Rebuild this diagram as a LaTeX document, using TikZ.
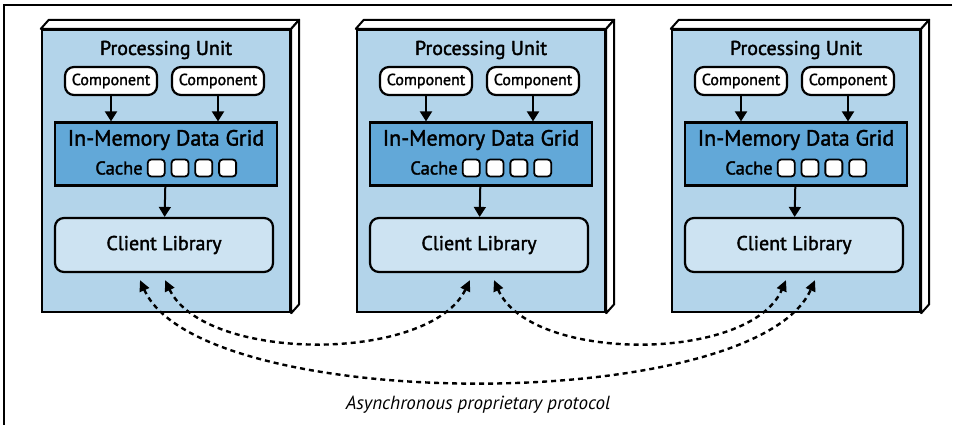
\documentclass[tikz,border=0pt]{standalone}
\usepackage{fontspec}
\setmainfont{PT Sans}[UprightFeatures={FakeBold=1.8}]
\usetikzlibrary{positioning,arrows.meta}

\definecolor{unitblue}{RGB}{179,212,234}
\definecolor{gridblue}{RGB}{98,168,216}
\definecolor{libblue}{RGB}{205,227,242}

\tikzset{
  unit/.style={rectangle, draw, line width=2.4pt, fill=unitblue, minimum width=248pt, minimum height=282pt},
  side/.style={draw, line width=2pt, fill=white, line join=round},
  comp/.style={rectangle, draw, line width=2.2pt, fill=white, rounded corners=9pt, minimum width=92pt, minimum height=28pt, inner sep=0pt, font=\fontsize{16}{16}\selectfont},
  grid/.style={rectangle, draw, line width=2.2pt, fill=gridblue, minimum width=222pt, minimum height=63pt},
  slot/.style={rectangle, draw, line width=1.8pt, fill=white, rounded corners=3.5pt, minimum size=17pt, inner sep=0pt},
  lib/.style={rectangle, draw, line width=2.2pt, fill=libblue, rounded corners=9pt, minimum width=218pt, minimum height=54pt, font=\fontsize{20}{20}\selectfont},
  arrow/.style={-{Triangle[length=10pt,width=12pt]}, line width=2pt},
  proto/.style={{Triangle[length=11pt,width=10pt]}-{Triangle[length=11pt,width=10pt]}, line width=2.4pt, dash pattern=on 5pt off 4pt},
}

\begin{document}
\begin{tikzpicture}[x=1pt, y=-1pt]
  \useasboundingbox (0,0) rectangle (957,425);
  \draw[line width=1.5pt] (952,5) -- (4,5) -- (4,425);

  % three processing units
  \foreach \i/\cx in {1/166, 2/481, 3/796} {
    \node[unit] (pu\i) at (\cx,171) {};
    \draw[side] (pu\i.north west) -- ++(8,-9) -- ([shift={(8,-9)}]pu\i.north east) -- (pu\i.north east) -- cycle;
    \draw[side] (pu\i.north east) -- ++(8,-9) -- ([shift={(8,-9)}]pu\i.south east) -- (pu\i.south east) -- cycle;
    \node[font=\fontsize{20}{20}\selectfont] (title\i) at (\cx,50) {Processing Unit};

    \node[comp] (ca\i) at (\cx-55,81) {Component};
    \node[comp] (cb\i) at (\cx+52,81) {Component};

    \node[grid] (grid\i) at (\cx,154) {};
    \node[font=\fontsize{22}{22}\selectfont] (imdg\i) at (\cx,140) {In-Memory Data Grid};
    \node[font=\fontsize{18.5}{18.5}\selectfont, inner sep=0pt] (cache\i) at (\cx-47,168) {Cache};
    \node[slot, right=4pt of cache\i] (s1\i) {};
    \node[slot, right=5pt of s1\i] (s2\i) {};
    \node[slot, right=5pt of s2\i] (s3\i) {};
    \node[slot, right=5pt of s3\i] (s4\i) {};

    \node[lib] (lib\i) at (\cx-2,245) {Client Library};

    \draw[arrow] (ca\i) -- (ca\i |- grid\i.north);
    \draw[arrow] (cb\i) -- (cb\i |- grid\i.north);
    \draw[arrow] (grid\i) -- (lib\i);
  }

  % protocol ends
  \coordinate (p1a) at ([shift={(-24,7)}]lib1.south);
  \coordinate (p1b) at ([shift={(1,7)}]lib1.south);
  \coordinate (p2a) at ([shift={(-9,7)}]lib2.south);
  \coordinate (p2b) at ([shift={(15,7)}]lib2.south);
  \coordinate (p3a) at ([shift={(-8,7)}]lib3.south);
  \coordinate (p3b) at ([shift={(21,7)}]lib3.south);

  \draw[proto] (p1b) .. controls (205,363) and (430,363) .. (p2a);
  \draw[proto] (p2b) .. controls (530,363) and (750,363) .. (p3a);
  \draw[proto] (p1a) .. controls (200,415) and (755,415) .. (p3b);

  \node[font=\itshape\fontsize{19}{19}\selectfont] (label) at (478,405) {Asynchronous proprietary protocol};
\end{tikzpicture}
\end{document}
